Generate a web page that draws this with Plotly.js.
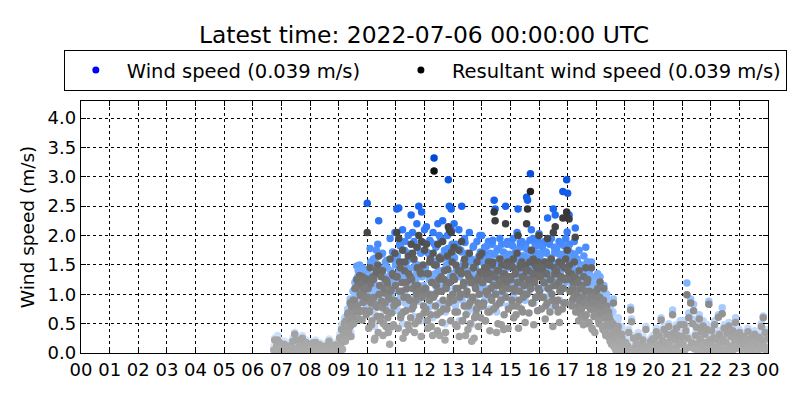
<!DOCTYPE html>
<html>
<head>
<meta charset="utf-8">
<script src="https://cdn.plot.ly/plotly-3.0.1.min.js"></script>
<style>
  body { margin: 0; background: #fff; }
  #plot1 { width: 800px; height: 400px; }
</style>
</head>
<body>
<div id="plot1"></div>
<script>
///////////////////////////////////////////////  data  /////////////////////////////////////////////////////////
// readings on even minutes from 06:44, plus the odd-minute readings of the windy part of the day (09:01-18:59)
var firstTime = '2022-07-05 06:44';
var firstTimeOdd = '2022-07-05 09:01';
var stepMs = 2 * 60 * 1000;
var dayRange = ['2022-07-05 00:00', '2022-07-06 00:00'];

var windSpeed = [
  0.12, 0.25, 0.08, 0.18, 0.30, 0.15, 0.22, 0.10,
  // 07
  0.10, 0.05, 0.14, 0.20, 0.08, 0.02, 0.12, 0.18, 0.06, 0.10, 0.03, 0.15, 0.25, 0.09, 0.35,
  0.12, 0.28, 0.05, 0.10, 0.16, 0.07, 0.20, 0.30, 0.11, 0.04, 0.13, 0.22, 0.08, 0.15, 0.06,
  // 08
  0.08, 0.12, 0.04, 0.20, 0.15, 0.06, 0.22, 0.10, 0.03, 0.14, 0.18, 0.07, 0.05, 0.11, 0.02,
  0.09, 0.16, 0.06, 0.13, 0.04, 0.24, 0.10, 0.08, 0.15, 0.05, 0.12, 0.07, 0.18, 0.03, 0.10,
  // 09
  0.15, 0.30, 0.22, 0.45, 0.10, 0.38, 0.55, 0.28, 0.62, 0.40, 0.75, 0.50, 0.92, 0.35, 0.85,
  1.05, 0.60, 1.20, 0.95, 1.48, 1.30, 0.70, 1.50, 1.15, 0.88, 1.45, 1.25, 1.02, 1.40, 0.80,
  // 10
  2.55, 1.35, 0.95, 1.78, 1.10, 0.80, 1.50, 1.25, 0.65, 1.62, 1.05, 1.85, 2.25, 1.40, 0.90,
  1.15, 1.70, 0.75, 1.30, 1.55, 1.00, 1.45, 0.85, 1.20, 1.95, 1.35, 0.70, 1.60, 1.10, 2.05,
  // 11
  1.60, 2.45, 1.20, 2.47, 1.85, 0.95, 1.40, 2.10, 1.05, 1.75, 0.85, 1.55, 1.30, 2.00, 0.75,
  1.65, 2.35, 1.10, 1.45, 1.90, 0.90, 1.25, 2.20, 1.50, 2.50, 1.00, 1.70, 2.40, 1.35, 1.15,
  // 12
  2.10, 1.45, 2.15, 0.95, 1.70, 1.25, 1.90, 0.80, 1.55, 2.05, 3.32, 1.35, 1.80, 1.05, 2.20,
  1.60, 0.85, 1.95, 1.40, 2.25, 1.15, 1.75, 0.70, 1.50, 2.00, 2.95, 2.50, 1.30, 2.45, 1.85,
  // 13
  1.65, 2.20, 1.10, 1.85, 0.90, 1.45, 2.10, 1.30, 1.75, 2.50, 1.00, 1.55, 1.95, 0.80, 1.40,
  1.70, 1.20, 2.05, 0.95, 1.60, 1.35, 1.80, 0.75, 1.50, 1.15, 1.90, 1.25, 1.65, 2.00, 1.05,
  // 14
  2.00, 1.55, 1.25, 1.80, 0.95, 1.65, 1.40, 1.90, 1.10, 1.70, 1.35, 1.85, 1.50, 2.60, 2.45,
  1.20, 1.75, 1.00, 1.60, 1.95, 1.30, 1.85, 1.45, 1.05, 1.70, 2.50, 1.55, 1.90, 1.15, 1.65,
  // 15
  1.60, 1.85, 1.20, 1.95, 1.45, 1.70, 1.05, 2.05, 2.45, 1.30, 1.80, 1.55, 1.90, 1.15, 1.65,
  1.40, 1.85, 2.65, 2.60, 1.75, 1.50, 3.05, 2.10, 1.25, 1.95, 1.60, 1.85, 1.35, 1.70, 1.90,
  // 16
  2.03, 1.65, 1.85, 1.35, 1.75, 1.55, 1.90, 1.20, 1.70, 2.30, 1.45, 1.85, 1.60, 1.95, 1.30,
  2.45, 1.80, 2.35, 1.50, 1.70, 1.15, 1.90, 1.40, 1.65, 1.85, 2.75, 1.25, 1.60, 1.95, 2.95,
  // 17
  2.72, 1.65, 1.85, 1.40, 1.70, 1.25, 1.55, 1.90, 2.13, 1.35, 1.60, 1.15, 1.75, 1.45, 1.00,
  1.50, 1.30, 1.65, 0.95, 1.80, 1.20, 1.55, 0.85, 1.40, 1.10, 1.55, 0.75, 1.30, 1.00, 1.20,
  // 18
  1.25, 0.95, 1.10, 0.70, 1.30, 0.85, 1.05, 0.60, 1.15, 0.80, 0.50, 1.00, 0.65, 0.90, 0.40,
  0.75, 0.30, 0.55, 0.92, 0.20, 0.45, 0.10, 0.35, 0.60, 0.15, 0.25, 0.05, 0.40, 0.12, 0.22,
  // 19
  0.10, 0.25, 0.05, 0.18, 0.40, 0.08, 0.78, 0.58, 0.12, 0.30, 0.03, 0.15, 0.22, 0.06, 0.35,
  0.10, 0.02, 0.20, 0.08, 0.28, 0.04, 0.14, 0.45, 0.09, 0.18, 0.02, 0.12, 0.25, 0.06, 0.30,
  // 20
  0.15, 0.30, 0.08, 0.42, 0.22, 0.05, 0.35, 0.18, 0.60, 0.28, 0.10, 0.45, 0.25, 0.12, 0.38,
  0.06, 0.50, 0.20, 0.32, 0.15, 0.73, 0.40, 0.09, 0.28, 0.48, 0.18, 0.35, 0.05, 0.55, 0.25,
  // 21
  0.35, 0.20, 0.55, 0.10, 0.45, 1.19, 0.30, 0.68, 0.15, 0.92, 0.25, 0.58, 0.83, 0.12, 0.35,
  0.50, 0.22, 0.08, 0.65, 0.30, 0.42, 0.18, 0.55, 0.05, 0.38, 0.25, 0.48, 0.12, 0.88, 0.30,
  // 22
  0.20, 0.45, 0.10, 0.32, 0.55, 0.15, 0.28, 0.05, 0.65, 0.38, 0.22, 0.12, 0.77, 0.30, 0.48,
  0.08, 0.25, 0.40, 0.15, 0.52, 0.03, 0.35, 0.18, 0.45, 0.10, 0.28, 0.60, 0.12, 0.38, 0.22,
  // 23
  0.40, 0.15, 0.28, 0.08, 0.35, 0.20, 0.05, 0.30, 0.12, 0.42, 0.18, 0.25, 0.06, 0.32, 0.15,
  0.22, 0.38, 0.10, 0.26, 0.04, 0.20, 0.33, 0.12, 0.50, 0.28, 0.63, 0.18, 0.40, 0.08, 0.30
];

var resultantSpeed = [
  0.05, 0.22, 0.03, 0.12, 0.22, 0.10, 0.18, 0.04,
  // 07
  0.06, 0.02, 0.10, 0.15, 0.04, 0.00, 0.08, 0.12, 0.03, 0.07, 0.01, 0.10, 0.20, 0.05, 0.32,
  0.08, 0.22, 0.02, 0.06, 0.12, 0.04, 0.15, 0.25, 0.07, 0.01, 0.09, 0.18, 0.05, 0.11, 0.03,
  // 08
  0.05, 0.08, 0.02, 0.17, 0.12, 0.03, 0.18, 0.06, 0.01, 0.10, 0.14, 0.04, 0.02, 0.07, 0.00,
  0.05, 0.12, 0.03, 0.09, 0.02, 0.20, 0.06, 0.05, 0.11, 0.02, 0.08, 0.04, 0.14, 0.01, 0.06,
  // 09
  0.10, 0.25, 0.15, 0.40, 0.06, 0.30, 0.48, 0.20, 0.55, 0.32, 0.68, 0.42, 0.85, 0.28, 0.78,
  0.90, 0.52, 1.10, 0.82, 1.25, 1.15, 0.58, 1.32, 0.98, 0.72, 1.30, 1.05, 0.88, 1.22, 0.65,
  // 10
  2.05, 1.10, 0.70, 1.45, 0.85, 0.55, 1.30, 0.95, 0.25, 1.35, 0.78, 1.50, 1.65, 1.15, 0.62,
  0.88, 1.40, 0.50, 1.02, 1.25, 0.72, 1.18, 0.35, 0.92, 1.60, 1.08, 0.45, 1.32, 0.80, 1.70,
  // 11
  1.30, 2.05, 0.85, 1.95, 1.55, 0.60, 1.05, 1.75, 0.70, 1.40, 0.35, 1.20, 0.95, 1.65, 0.40,
  1.30, 1.85, 0.75, 1.10, 1.60, 0.50, 0.90, 1.80, 1.15, 2.00, 0.62, 1.35, 1.90, 1.00, 0.80,
  // 12
  1.75, 1.10, 1.85, 0.55, 1.35, 0.90, 1.60, 0.45, 1.20, 1.70, 3.10, 1.00, 1.50, 0.65, 1.85,
  1.25, 0.30, 1.60, 1.05, 1.90, 0.75, 1.40, 0.35, 1.15, 1.65, 2.15, 2.10, 0.95, 2.05, 1.55,
  // 13
  1.30, 1.80, 0.70, 1.50, 0.45, 1.10, 1.75, 0.95, 1.40, 1.90, 0.55, 1.20, 1.60, 0.30, 1.00,
  1.35, 0.80, 1.70, 0.50, 1.25, 0.90, 1.45, 0.25, 1.15, 0.65, 1.55, 0.85, 1.30, 1.65, 0.60,
  // 14
  1.70, 1.20, 0.85, 1.45, 0.55, 1.30, 1.00, 1.55, 0.70, 1.35, 0.95, 1.50, 1.15, 2.40, 2.25,
  0.80, 1.40, 0.50, 1.25, 1.60, 0.90, 1.50, 1.10, 0.40, 1.35, 2.20, 1.20, 1.55, 0.75, 1.30,
  // 15
  1.25, 1.50, 0.80, 1.60, 1.05, 1.35, 0.65, 1.70, 2.00, 0.90, 1.45, 1.20, 1.55, 0.70, 1.30,
  1.00, 1.50, 2.20, 2.45, 1.40, 1.15, 2.75, 1.75, 0.85, 1.60, 1.25, 1.50, 0.95, 1.35, 1.55,
  // 16
  2.00, 1.30, 1.50, 0.95, 1.40, 1.20, 1.55, 0.80, 1.35, 1.95, 1.10, 1.50, 1.25, 1.60, 0.90,
  2.05, 1.45, 2.15, 1.15, 1.35, 0.70, 1.55, 1.05, 1.30, 1.50, 2.30, 0.85, 1.25, 1.60, 2.40,
  // 17
  2.30, 1.30, 1.50, 1.05, 1.35, 0.90, 1.20, 1.55, 1.97, 1.00, 1.25, 0.80, 1.40, 1.10, 0.65,
  1.15, 0.95, 1.30, 0.60, 1.45, 0.85, 1.25, 0.50, 1.05, 0.75, 1.45, 0.40, 0.95, 0.65, 0.85,
  // 18
  1.05, 0.75, 0.90, 0.50, 1.21, 0.65, 0.85, 0.40, 1.10, 0.60, 0.30, 0.80, 0.45, 0.70, 0.25,
  0.55, 0.15, 0.35, 0.85, 0.10, 0.30, 0.03, 0.20, 0.45, 0.06, 0.12, 0.00, 0.25, 0.04, 0.10,
  // 19
  0.05, 0.18, 0.01, 0.12, 0.35, 0.03, 0.73, 0.53, 0.07, 0.25, 0.00, 0.10, 0.16, 0.02, 0.28,
  0.05, 0.00, 0.14, 0.03, 0.22, 0.01, 0.08, 0.40, 0.04, 0.12, 0.00, 0.07, 0.20, 0.02, 0.24,
  // 20
  0.10, 0.25, 0.03, 0.36, 0.15, 0.01, 0.30, 0.12, 0.56, 0.22, 0.05, 0.40, 0.18, 0.06, 0.32,
  0.02, 0.45, 0.14, 0.26, 0.08, 0.65, 0.34, 0.04, 0.22, 0.42, 0.12, 0.30, 0.01, 0.48, 0.18,
  // 21
  0.28, 0.15, 0.48, 0.05, 0.38, 0.99, 0.25, 0.60, 0.10, 0.85, 0.18, 0.50, 0.72, 0.07, 0.30,
  0.44, 0.16, 0.03, 0.58, 0.24, 0.36, 0.12, 0.46, 0.01, 0.32, 0.18, 0.40, 0.06, 0.83, 0.22,
  // 22
  0.14, 0.38, 0.05, 0.26, 0.48, 0.10, 0.22, 0.02, 0.61, 0.32, 0.16, 0.07, 0.67, 0.24, 0.42,
  0.04, 0.18, 0.34, 0.10, 0.46, 0.00, 0.28, 0.12, 0.38, 0.06, 0.22, 0.52, 0.08, 0.30, 0.16,
  // 23
  0.35, 0.10, 0.22, 0.04, 0.28, 0.14, 0.01, 0.24, 0.08, 0.36, 0.12, 0.20, 0.02, 0.26, 0.10,
  0.16, 0.32, 0.05, 0.20, 0.01, 0.14, 0.27, 0.07, 0.45, 0.22, 0.60, 0.12, 0.35, 0.04, 0.24
];

var windSpeedOdd = [
  // 09
  0.18, 0.32, 0.10, 0.48, 0.25, 0.40, 0.60, 0.30, 0.52, 0.75, 0.42, 0.66, 0.55, 0.90, 0.70,
  0.58, 1.02, 0.80, 1.25, 0.92, 1.40, 0.85, 1.15, 1.35, 0.72, 1.05, 1.28, 0.88, 1.10, 1.42,
  // 10
  1.30, 0.70, 1.05, 1.55, 0.80, 1.25, 1.60, 0.45, 1.15, 1.75, 0.95, 0.62, 1.35, 0.85, 1.68,
  1.10, 0.55, 1.45, 1.20, 0.75, 1.58, 0.92, 1.30, 0.40, 1.40, 1.00, 1.72, 0.78, 1.25, 1.50,
  // 11
  1.20, 1.65, 0.72, 1.40, 1.82, 0.98, 1.55, 0.50, 1.30, 1.90, 1.08, 1.45, 0.80, 1.70, 1.25,
  0.92, 1.60, 2.05, 1.15, 0.62, 1.50, 1.35, 1.80, 0.88, 1.40, 1.72, 0.55, 1.30, 1.88, 1.02,
  // 12
  1.45, 1.10, 1.72, 0.75, 1.35, 1.92, 1.00, 1.58, 0.60, 1.30, 1.85, 1.15, 1.50, 0.68, 1.40,
  2.00, 1.05, 1.65, 0.85, 1.25, 1.62, 0.50, 1.45, 1.10, 1.78, 1.20, 1.55, 0.90, 2.08, 1.35,
  // 13
  1.25, 1.62, 0.80, 1.45, 1.05, 1.78, 0.55, 1.35, 1.72, 0.90, 1.50, 1.15, 1.88, 1.00, 1.40,
  0.70, 1.68, 1.20, 1.55, 0.48, 1.30, 1.82, 0.95, 1.45, 1.10, 1.60, 0.75, 1.35, 1.72, 1.15,
  // 14
  1.55, 1.15, 1.72, 0.90, 1.40, 1.82, 1.05, 1.62, 0.75, 1.45, 1.25, 1.92, 1.10, 1.68, 1.35,
  0.70, 1.50, 1.78, 1.20, 1.55, 0.85, 1.40, 1.72, 1.00, 1.62, 1.30, 1.85, 0.80, 1.45, 1.68,
  // 15
  1.62, 1.25, 1.82, 0.95, 1.45, 1.72, 1.15, 1.58, 0.80, 1.40, 1.88, 1.10, 1.65, 1.30, 1.50,
  0.90, 1.78, 1.35, 1.62, 1.05, 1.92, 1.45, 1.20, 1.72, 0.85, 1.55, 1.30, 1.82, 1.10, 1.45,
  // 16
  1.40, 1.68, 1.10, 1.82, 1.30, 1.55, 0.95, 1.72, 1.20, 1.45, 1.88, 1.05, 1.62, 1.35, 0.80,
  1.50, 1.72, 1.15, 1.78, 1.25, 1.55, 0.90, 1.40, 1.68, 1.10, 1.45, 1.82, 1.20, 1.62, 2.06,
  // 17
  1.78, 2.35, 1.40, 1.62, 1.15, 1.45, 1.30, 1.68, 1.05, 1.35, 1.55, 0.90, 1.25, 1.45, 1.10,
  1.30, 0.80, 1.20, 1.40, 1.00, 1.55, 1.15, 0.85, 1.30, 1.10, 0.75, 1.20, 0.95, 0.65, 1.00,
  // 18
  1.10, 1.35, 0.80, 1.20, 0.95, 1.05, 0.70, 1.15, 0.85, 0.60, 0.95, 0.75, 0.50, 0.85, 0.35,
  0.65, 0.45, 0.70, 0.25, 0.50, 0.15, 0.40, 0.55, 0.08, 0.30, 0.18, 0.45, 0.05, 0.25, 0.12
];

var resultantSpeedOdd = [
  // 09
  0.12, 0.26, 0.06, 0.40, 0.20, 0.32, 0.52, 0.24, 0.44, 0.66, 0.34, 0.58, 0.46, 0.80, 0.60,
  0.50, 0.90, 0.70, 1.10, 0.80, 1.25, 0.70, 1.00, 1.18, 0.56, 0.86, 1.10, 0.72, 0.95, 1.26,
  // 10
  0.95, 0.42, 0.72, 1.18, 0.48, 0.90, 1.25, 0.22, 0.82, 1.40, 0.62, 0.35, 1.00, 0.55, 1.30,
  0.78, 0.30, 1.10, 0.85, 0.45, 1.22, 0.60, 0.95, 0.15, 1.05, 0.68, 1.35, 0.48, 0.90, 1.15,
  // 11
  0.85, 1.30, 0.42, 1.05, 1.45, 0.65, 1.20, 0.25, 0.95, 1.55, 0.72, 1.10, 0.48, 1.35, 0.90,
  0.60, 1.25, 1.70, 0.80, 0.35, 1.15, 1.00, 1.45, 0.55, 1.05, 1.38, 0.28, 0.95, 1.50, 0.68,
  // 12
  1.10, 0.75, 1.35, 0.42, 1.00, 1.55, 0.65, 1.20, 0.30, 0.95, 1.50, 0.80, 1.15, 0.38, 1.05,
  1.62, 0.70, 1.30, 0.52, 0.90, 1.25, 0.22, 1.10, 0.75, 1.42, 0.85, 1.20, 0.55, 1.72, 1.00,
  // 13
  0.90, 1.25, 0.48, 1.10, 0.70, 1.40, 0.28, 1.00, 1.35, 0.55, 1.15, 0.80, 1.50, 0.65, 1.05,
  0.40, 1.30, 0.85, 1.20, 0.20, 0.95, 1.45, 0.60, 1.10, 0.75, 1.25, 0.45, 1.00, 1.38, 0.80,
  // 14
  1.20, 0.80, 1.35, 0.55, 1.05, 1.45, 0.70, 1.25, 0.38, 1.10, 0.90, 1.55, 0.75, 1.30, 1.00,
  0.35, 1.15, 1.40, 0.85, 1.20, 0.48, 1.05, 1.35, 0.65, 1.25, 0.95, 1.48, 0.42, 1.10, 1.30,
  // 15
  1.25, 0.90, 1.45, 0.60, 1.10, 1.35, 0.80, 1.20, 0.42, 1.05, 1.50, 0.75, 1.30, 0.95, 1.15,
  0.52, 1.40, 1.00, 1.25, 0.68, 1.55, 1.10, 0.85, 1.35, 0.48, 1.20, 0.95, 1.45, 0.72, 1.10,
  // 16
  1.05, 1.30, 0.75, 1.45, 0.95, 1.20, 0.58, 1.35, 0.85, 1.10, 1.50, 0.70, 1.25, 1.00, 0.45,
  1.15, 1.35, 0.80, 1.40, 0.90, 1.20, 0.52, 1.05, 1.30, 0.75, 1.10, 1.45, 0.85, 1.25, 1.75,
  // 17
  1.40, 2.28, 1.05, 1.25, 0.80, 1.10, 0.95, 1.30, 0.70, 1.00, 1.20, 0.55, 0.90, 1.10, 0.75,
  0.95, 0.48, 0.85, 1.05, 0.65, 1.20, 0.80, 0.52, 0.95, 0.75, 0.42, 0.85, 0.62, 0.35, 0.65,
  // 18
  0.85, 1.10, 0.55, 0.95, 0.70, 0.80, 0.45, 0.90, 0.60, 0.35, 0.72, 0.50, 0.28, 0.62, 0.20,
  0.45, 0.28, 0.50, 0.12, 0.35, 0.06, 0.25, 0.40, 0.02, 0.18, 0.08, 0.32, 0.00, 0.15, 0.05
];

var latestTime = '2022-07-06 00:00:00 UTC';
var windLabel = 'Wind speed (0.039 m/s)';
var resultantLabel = 'Resultant wind speed (0.039 m/s)';

///////////////////////////////////////////////  style  /////////////////////////////////////////////////////////
var blueScale = [[0, '#e2edff'], [0.15, '#c0d8ff'], [0.3, '#92beff'], [0.45, '#65a2ff'],
                 [0.6, '#3b82fb'], [0.75, '#1964f0'], [1, '#0048d8']];
var greyScale = [[0, '#adadad'], [0.15, '#9c9c9c'], [0.3, '#828282'], [0.45, '#656565'],
                 [0.6, '#4a4a4a'], [0.75, '#333333'], [1, '#0a0a0a']];
var fontMain = 'DejaVu Sans, sans-serif';
var legendGap = '\u00a0\u00a0\u00a0\u00a0';

function speedTrace(values, start, scale) {
  return {
    type: 'scatter', mode: 'markers',
    x0: start, dx: stepMs, y: values,
    showlegend: false, hoverinfo: 'skip',
    marker: { size: 7.5, color: values, colorscale: scale, cmin: 0, cmax: 3.3, line: { width: 0 } }
  };
}

function legendTrace(name, color) {
  return {
    type: 'scatter', mode: 'markers', x: [null], y: [null], name: name,
    marker: { size: 7, color: color }
  };
}

function axisCommon() {
  return {
    showline: true, linecolor: '#000', linewidth: 1.3, mirror: 'ticks',
    ticks: 'inside', ticklen: 5, tickcolor: '#000',
    showgrid: true, gridcolor: '#000', gridwidth: 1, griddash: 'dot',
    zeroline: false, fixedrange: true,
    tickfont: { family: fontMain, size: 18, color: '#000' }
  };
}

/////////////////////////////////////////////  plot  /////////////////////////////////////////////////////////
var xaxis = axisCommon();
xaxis.type = 'date';
xaxis.range = dayRange;
xaxis.dtick = 3600000;
xaxis.tickformat = '%H';

var yaxis = axisCommon();
yaxis.range = [0, 4.29];
yaxis.dtick = 0.5;
yaxis.tickformat = '.1f';
yaxis.title = { text: 'Wind speed (m/s)', font: { family: fontMain, size: 18.5, color: '#000' }, standoff: 8 };

var layoutWind = {
  width: 800, height: 400,
  margin: { l: 81, r: 32, t: 101, b: 47, autoexpand: false },
  paper_bgcolor: '#fff', plot_bgcolor: '#fff',
  title: { text: 'Latest time: ' + latestTime, font: { family: fontMain, size: 23.4, color: '#000' },
           x: 0.53, xanchor: 'center', y: 0.912, yanchor: 'middle' },
  showlegend: true,
  // anchored left of the plot area so the legend may grow wider than the axes
  legend: {
    orientation: 'h', x: -0.025, xanchor: 'left', y: 1.04, yanchor: 'bottom',
    bordercolor: '#000', borderwidth: 1, bgcolor: '#fff',
    font: { family: fontMain, size: 19.5, color: '#000' },
    itemwidth: 52
  },
  xaxis: xaxis, yaxis: yaxis
};

var dataWind = [
  speedTrace(windSpeed, firstTime, blueScale),
  speedTrace(windSpeedOdd, firstTimeOdd, blueScale),
  speedTrace(resultantSpeed, firstTime, greyScale),
  speedTrace(resultantSpeedOdd, firstTimeOdd, greyScale),
  legendTrace(windLabel + legendGap, '#0000ff'),
  legendTrace(resultantLabel, '#000000')
];

Plotly.newPlot('plot1', dataWind, layoutWind, { staticPlot: true, displayModeBar: false });
</script>
</body>
</html>
